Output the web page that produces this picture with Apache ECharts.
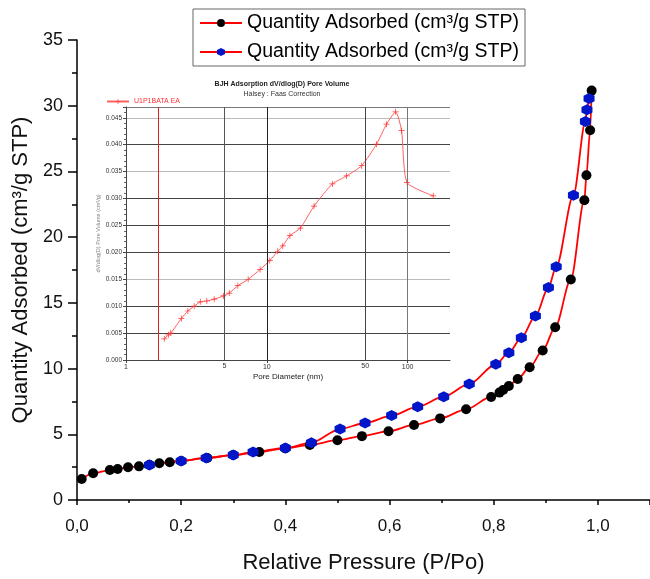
<!DOCTYPE html>
<html>
<head>
<meta charset="utf-8">
<script src="https://cdn.jsdelivr.net/npm/echarts@6/dist/echarts.min.js"></script>
<style>
    html, body { margin: 0; padding: 0; background: #fff; }
    #main { width: 650px; height: 579px; }
</style>
</head>
<body>
<div id="main"></div>
<script>
    // isotherm - adsorption branch (black dots)
    var adsP = [0.009, 0.031, 0.063, 0.078, 0.098, 0.119, 0.139, 0.158, 0.178, 0.200, 0.250, 0.300, 0.350, 0.400, 0.447, 0.500, 0.547, 0.598, 0.647, 0.697, 0.747, 0.795, 0.811, 0.818, 0.829, 0.846, 0.869, 0.894, 0.918, 0.948, 0.974, 0.978, 0.985, 0.988];
    var adsQ = [1.60, 2.03, 2.28, 2.36, 2.49, 2.56, 2.68, 2.79, 2.87, 2.97, 3.20, 3.42, 3.65, 3.93, 4.19, 4.55, 4.86, 5.23, 5.71, 6.21, 6.90, 7.84, 8.17, 8.37, 8.68, 9.21, 10.10, 11.38, 13.14, 16.78, 22.81, 24.71, 28.13, 31.15];
    // desorption branch (blue dots), starts from the last adsorption point
    var desP = [0.988, 0.983, 0.979, 0.976, 0.953, 0.920, 0.905, 0.880, 0.853, 0.829, 0.804, 0.753, 0.704, 0.654, 0.604, 0.553, 0.505, 0.450, 0.400, 0.338, 0.300, 0.248, 0.200, 0.139];
    var desQ = [31.15, 30.54, 29.70, 28.79, 23.19, 17.75, 16.17, 14.00, 12.35, 11.21, 10.33, 8.83, 7.86, 7.10, 6.42, 5.86, 5.40, 4.36, 3.96, 3.65, 3.42, 3.20, 2.97, 2.66];
    // inset: BJH pore size distribution
    var poreD = [1.87, 2.0, 2.08, 2.47, 2.75, 3.05, 3.37, 3.75, 4.23, 4.92, 5.41, 6.23, 7.37, 8.96, 10.5, 11.96, 12.98, 14.6, 17.3, 21.65, 29.2, 36.9, 47.2, 60.2, 70.8, 82.2, 90.6, 99.0, 152];
    var poreV = [0.00394, 0.00467, 0.0050, 0.00769, 0.0091, 0.0100, 0.0108, 0.01096, 0.0113, 0.0119, 0.01244, 0.0138, 0.0150, 0.0168, 0.0185, 0.0202, 0.0212, 0.0231, 0.0245, 0.0286, 0.0327, 0.0342, 0.0361, 0.0401, 0.0438, 0.0461, 0.0426, 0.0330, 0.0305];
    var insetGridX = [5, 10, 50, 100];       // vertical grid lines in the inset
    var insetGridColor = ['#555', '#222', '#444', '#777'];
    var insetLabelX = [5, 50];               // extra labels on log axis
    var markerD = 1.7;                       // red marker line in inset

    var legendLabel = 'Quantity Adsorbed (cm³/g STP)';
    var FONT = '"Liberation Sans", Arial, sans-serif';
    var hexagon = 'path://M5,0L9.33,2.5L9.33,7.5L5,10L0.67,7.5L0.67,2.5Z';
    var plus = 'path://M4.4,0H5.6V4.4H10V5.6H5.6V10H4.4V5.6H0V4.4H4.4Z';

    var adsData = adsP.map(function (p, i) { return [p, adsQ[i]]; });
    var desData = desP.map(function (p, i) {
        var item = { value: [p, desQ[i]] };
        if (i === 0) item.symbol = 'none';
        return item;
    });
    var poreData = poreD.map(function (d, i) { return [d, poreV[i]]; });

    var markData = insetGridX.map(function (x, i) {
        var showLab = insetLabelX.indexOf(x) >= 0;
        return {
            xAxis: x,
            lineStyle: { color: insetGridColor[i], width: 1, type: 'solid' },
            label: { show: showLab, position: 'start', distance: 3, formatter: String(x), fontSize: 7, color: '#333', fontFamily: FONT }
        };
    });
    markData.push({ xAxis: markerD, lineStyle: { color: '#e02020', width: 1, type: 'solid' }, label: { show: false } });

    var chart = echarts.init(document.getElementById('main'));
    chart.setOption({
        animation: false,
        textStyle: { fontFamily: FONT },
        title: {
            text: 'BJH Adsorption dV/dlog(D) Pore Volume',
            subtext: 'Halsey : Faas Correction',
            left: 282, top: 81, textAlign: 'center', itemGap: 3, padding: 0,
            textStyle: { fontSize: 7, fontWeight: 'bold', color: '#222', fontFamily: FONT },
            subtextStyle: { fontSize: 7, color: '#333', fontFamily: FONT }
        },
        legend: [{
            data: ['ads', 'des'],
            orient: 'vertical',
            left: 193, top: 9,
            itemWidth: 42, itemHeight: 10, itemGap: 9,
            padding: [4, 6, 4, 6],
            borderColor: '#666', borderWidth: 1,
            formatter: function () { return legendLabel; },
            textStyle: { fontSize: 19.5, color: '#000', fontFamily: FONT }
        }, {
            data: ['U1P1BATA EA'],
            left: 106, top: 98, padding: 0,
            itemWidth: 22, itemHeight: 6,
            textStyle: { fontSize: 7, color: '#ff3030', fontFamily: FONT }
        }],
        grid: [
            { left: 77, top: 40, width: 573, height: 460 },
            { left: 126, top: 107, width: 324, height: 253, show: true, backgroundColor: '#fff', borderWidth: 0 }
        ],
        xAxis: [{
            type: 'value', gridIndex: 0,
            min: 0, max: 1.1, interval: 0.2,
            name: 'Relative Pressure (P/Po)', nameLocation: 'middle', nameGap: 52,
            nameTextStyle: { fontSize: 22, color: '#111' },
            axisLine: { lineStyle: { color: '#000', width: 1.5 } },
            axisTick: { length: 5, lineStyle: { color: '#000', width: 1.5 } },
            minorTick: { show: true, splitNumber: 2, length: 3, lineStyle: { color: '#000', width: 1.5 } },
            splitLine: { show: false },
            axisLabel: {
                fontSize: 17, color: '#111', margin: 18, showMaxLabel: false,
                formatter: function (v) { return v.toFixed(1).replace('.', ','); }
            }
        }, {
            type: 'log', gridIndex: 1, logBase: 10,
            min: 1, max: 200,
            name: 'Pore Diameter (nm)', nameLocation: 'middle', nameGap: 13,
            nameTextStyle: { fontSize: 8, color: '#222' },
            axisLine: { lineStyle: { color: '#444', width: 1 } },
            axisTick: { length: 3, lineStyle: { color: '#444' } },
            splitLine: { show: false },
            axisLabel: { fontSize: 7, color: '#333', margin: 4, showMaxLabel: false }
        }],
        yAxis: [{
            type: 'value', gridIndex: 0,
            min: 0, max: 35, interval: 5,
            name: legendLabel, nameLocation: 'middle', nameGap: 32,
            nameTextStyle: { fontSize: 22, color: '#111' },
            axisLine: { show: true, lineStyle: { color: '#000', width: 1.5 } },
            axisTick: { show: true, length: 9, lineStyle: { color: '#000', width: 1.5 } },
            minorTick: { show: true, splitNumber: 2, length: 5, lineStyle: { color: '#000', width: 1.5 } },
            splitLine: { show: false },
            axisLabel: { fontSize: 18, color: '#111', margin: 14 }
        }, {
            type: 'value', gridIndex: 1,
            min: 0, max: 0.047, interval: 0.005,
            name: 'dV/dlog(D) Pore Volume (cm³/g)', nameLocation: 'middle', nameGap: 24,
            nameTextStyle: { fontSize: 5.5, color: '#888' },
            axisLine: { show: true, lineStyle: { color: '#444', width: 1 } },
            axisTick: { show: true, length: 3, lineStyle: { color: '#444' } },
            minorTick: { show: true, splitNumber: 5, length: 2, lineStyle: { color: '#666' } },
            splitLine: { show: true, lineStyle: { color: ['#444', '#444', '#444', '#bbb', '#444', '#444', '#444', '#bbb', '#444', '#bbb', '#777'], width: 1 } },
            axisLabel: { fontSize: 6.5, color: '#333', margin: 4, showMaxLabel: false,
                formatter: function (v) { return v.toFixed(3); } }
        }],
        series: [{
            name: 'ads', type: 'line',
            data: adsData,
            smooth: 0.3, smoothMonotone: 'x',
            symbol: 'circle', symbolSize: 10,
            itemStyle: { color: '#000' },
            lineStyle: { color: '#ff0000', width: 1.8 }
        }, {
            name: 'des', type: 'line',
            data: desData,
            smooth: 0.3, smoothMonotone: 'x',
            symbol: hexagon, symbolSize: 11,
            itemStyle: { color: '#0016c8' },
            lineStyle: { color: '#ff0000', width: 1.8 }
        }, {
            name: 'U1P1BATA EA', type: 'line',
            xAxisIndex: 1, yAxisIndex: 1,
            data: poreData,
            smooth: 0.2,
            symbol: plus, symbolSize: 6,
            itemStyle: { color: '#ff3030' },
            lineStyle: { color: '#ff6060', width: 1 },
            markLine: { silent: true, symbol: ['none', 'none'], animation: false, data: markData },
            z: 1
        }]
    });
</script>
</body>
</html>
